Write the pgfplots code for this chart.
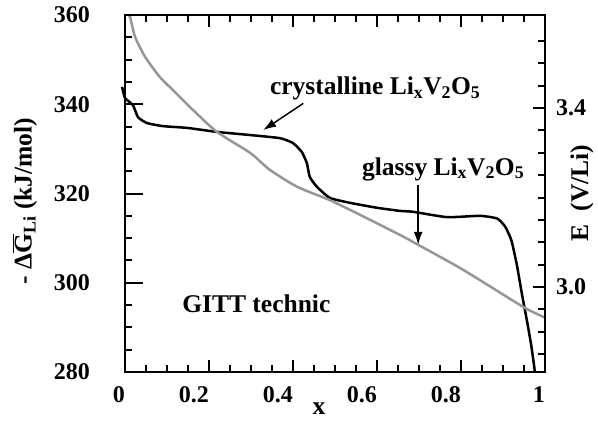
\documentclass[border=0pt]{standalone}
\usepackage{fontspec}
\setmainfont{Liberation Serif}
\usepackage{pgfplots}
\pgfplotsset{compat=1.18}
\usetikzlibrary{arrows.meta}
\definecolor{glassgray}{RGB}{150,150,150}
\newcommand\lab{\fontsize{25.5}{29}\selectfont\bfseries}
\newcommand\tlab{\fontsize{24}{27}\selectfont\bfseries}

\begin{document}
\begin{tikzpicture}[x=1pt,y=1pt]
\pgfplotsset{every axis/.append style={
  at={(125pt,49pt)},anchor=south west,scale only axis,
  width=420pt,height=357pt,xmin=0,xmax=1,
  tick align=inside,major tick length=12pt,minor tick length=7pt,
  axis line style={line width=2.5pt},
  tick style={line width=2pt,black},
  tick label style={font=\tlab,inner sep=0pt}}}

% curves and x ticks
\begin{axis}[ymin=280,ymax=360,ytick=\empty,clip=false,
  xtick={0,0.2,0.4,0.6,0.8,1},xticklabels={0,0.2,0.4,0.6,0.8,1},
  minor x tick num=3,
  xticklabel style={anchor=north east,yshift=-14pt}]
\addplot[black,line width=2.5pt,line join=round,smooth,tension=0.3] coordinates {
  (-0.007,343.9) (0,341.4) (0.019,339.8) (0.031,337.1) (0.052,335.8)
  (0.090,335.1) (0.148,334.7) (0.219,333.8) (0.298,333.1) (0.369,332.4)
  (0.400,331.3) (0.421,329.3) (0.433,326.8) (0.440,323.7) (0.457,321.5)
  (0.488,319.0) (0.536,317.9) (0.600,316.8) (0.655,316.1) (0.686,315.9)
  (0.767,314.7) (0.845,315.0) (0.886,314.4) (0.905,312.6) (0.920,309.5)
  (0.933,304.0) (0.945,297.5) (0.958,291.0) (0.968,285.5) (0.976,280.0)};
\addplot[glassgray,line width=2.5pt,line join=round,smooth,tension=0.4] coordinates {
  (0.007,360) (0.012,359.6) (0.024,355.1) (0.048,350.6) (0.083,346.1)
  (0.114,343.2) (0.162,338.7) (0.219,333.8) (0.298,329.1) (0.345,325.3)
  (0.410,321.5) (0.488,318.5) (0.560,315.2) (0.655,310.7) (0.698,308.5)
  (0.805,302.9) (0.948,294.6) (1,292.2)};
\draw[line width=1.5pt,-{Latex[length=13pt,width=9pt]}]
  (axis cs:0.4246,340.2) -- (axis cs:0.329,334.2);
\draw[line width=1.5pt,-{Latex[length=13pt,width=9pt]}]
  (axis cs:0.698,321.9) -- (axis cs:0.698,308.5);
\node[anchor=base west,inner sep=0pt,font=\lab] at (axis cs:0.345,342.1)
  {crystalline Li\textsubscript{x}V\textsubscript{2}O\textsubscript{5}};
\node[anchor=base west,inner sep=0pt,font=\lab] at (axis cs:0.564,324.1)
  {glassy Li\textsubscript{x}V\textsubscript{2}O\textsubscript{5}};
\node[anchor=base west,inner sep=0pt,font=\lab] at (axis cs:0.136,293.4)
  {GITT technic};
\end{axis}

% left energy axis
\begin{axis}[axis y line*=left,axis x line=none,ymin=280,ymax=360,
  ytick={280,300,320,340,360},yticklabels={280,300,320,340,360},
  minor y tick num=3,major tick length=18pt,
  yticklabel style={anchor=east,xshift=-35pt}]
\end{axis}

% right potential axis
\begin{axis}[axis y line*=right,axis x line=none,ymin=2.81,ymax=3.608,
  ytick={3.0,3.4},yticklabels={3.0,3.4},
  minor ytick={2.85,2.9,2.95,3.05,3.1,3.15,3.2,3.25,3.3,3.35,3.45,3.5,3.55},
  yticklabel style={anchor=west,xshift=11pt}]
\end{axis}

\node[rotate=90,font=\lab] at (25,220)
  {- Δ$\overline{\mbox{G}}$\textsubscript{Li} (kJ/mol)};
\node[rotate=90,font=\lab] at (582,228) {E\ \ (V/Li)};
\node[anchor=base,inner sep=0pt,font=\lab] at (319,6) {x};

\pgfresetboundingbox
\path (0,0) rectangle (598,421);
\end{tikzpicture}
\end{document}
